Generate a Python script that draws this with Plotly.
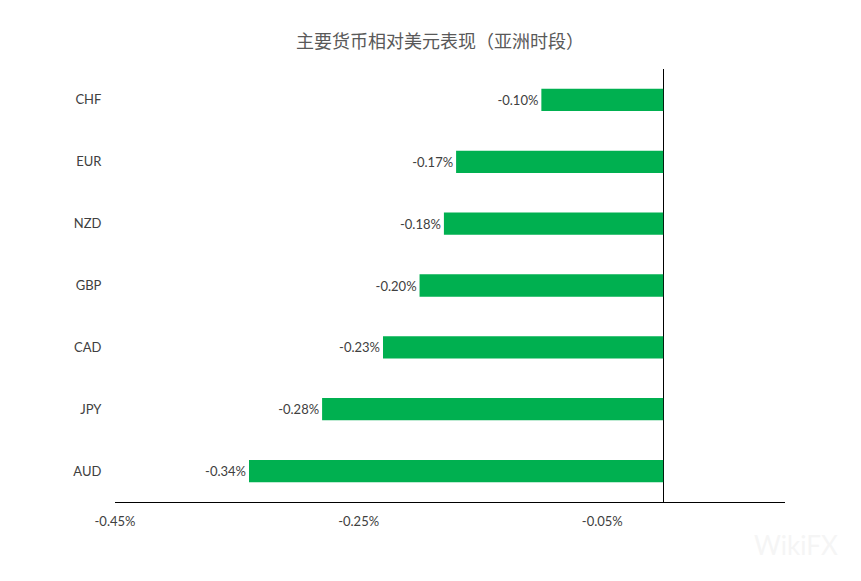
import plotly.graph_objects as go

title = "主要货币相对美元表现（亚洲时段）"
currencies = ["CHF", "EUR", "NZD", "GBP", "CAD", "JPY", "AUD"]
changes = [-0.10, -0.17, -0.18, -0.20, -0.23, -0.28, -0.34]
x_ticks = [-0.45, -0.25, -0.05]
x_tick_labels = ["-0.45%", "-0.25%", "-0.05%"]

font_family = "Lato, 'Noto Sans CJK SC', sans-serif"

# page offset (body margin) compensation
OFF = 8
L, R, T, B = 115 - OFF, 861 - 785 + OFF, 69 - OFF, 581 - 502 + OFF
PW = 861 - L - R
PH = 581 - T - B

fig = go.Figure(
    go.Bar(
        x=changes,
        y=currencies,
        orientation="h",
        marker=dict(color="#00B050", line=dict(width=0)),
        width=0.36,
        text=[f"{v:.2f}%" for v in changes],
        textposition="outside",
        textfont=dict(size=13, color="#404040", family=font_family),
        cliponaxis=False,
    )
)

fig.update_layout(
    width=861,
    height=581,
    paper_bgcolor="white",
    plot_bgcolor="white",
    margin=dict(l=L, r=R, t=T, b=B),
    title=dict(
        text=title,
        x=(440 - OFF) / 861,
        xanchor="center",
        y=1 - (42 - OFF) / 581,
        yanchor="middle",
        font=dict(size=18, color="#595959", family="'Noto Sans CJK SC', sans-serif"),
    ),
    showlegend=False,
    font=dict(family=font_family, color="#404040", size=13),
)

fig.update_xaxes(
    range=[-0.45, 0.1],
    tickvals=x_ticks,
    ticktext=x_tick_labels,
    showgrid=False,
    zeroline=True,
    zerolinecolor="black",
    zerolinewidth=1,
    showline=True,
    linecolor="black",
    linewidth=1,
    ticks="outside",
    ticklen=7,
    tickcolor="rgba(0,0,0,0)",
    tickfont=dict(size=13, color="#404040"),
)

fig.update_yaxes(
    categoryorder="array",
    categoryarray=currencies,
    autorange="reversed",
    showgrid=False,
    zeroline=False,
    showline=False,
    ticks="outside",
    ticklen=10,
    tickcolor="rgba(0,0,0,0)",
    tickfont=dict(size=13, color="#404040"),
)

fig.add_annotation(
    text="WikiFX",
    xref="paper", yref="paper",
    x=(840 - OFF - L) / PW, y=-(545 - 502) / PH,
    xanchor="right", yanchor="middle",
    showarrow=False,
    font=dict(size=26, color="#f5f5f5", family="Lato, sans-serif"),
)

fig.write_html("out.html")
